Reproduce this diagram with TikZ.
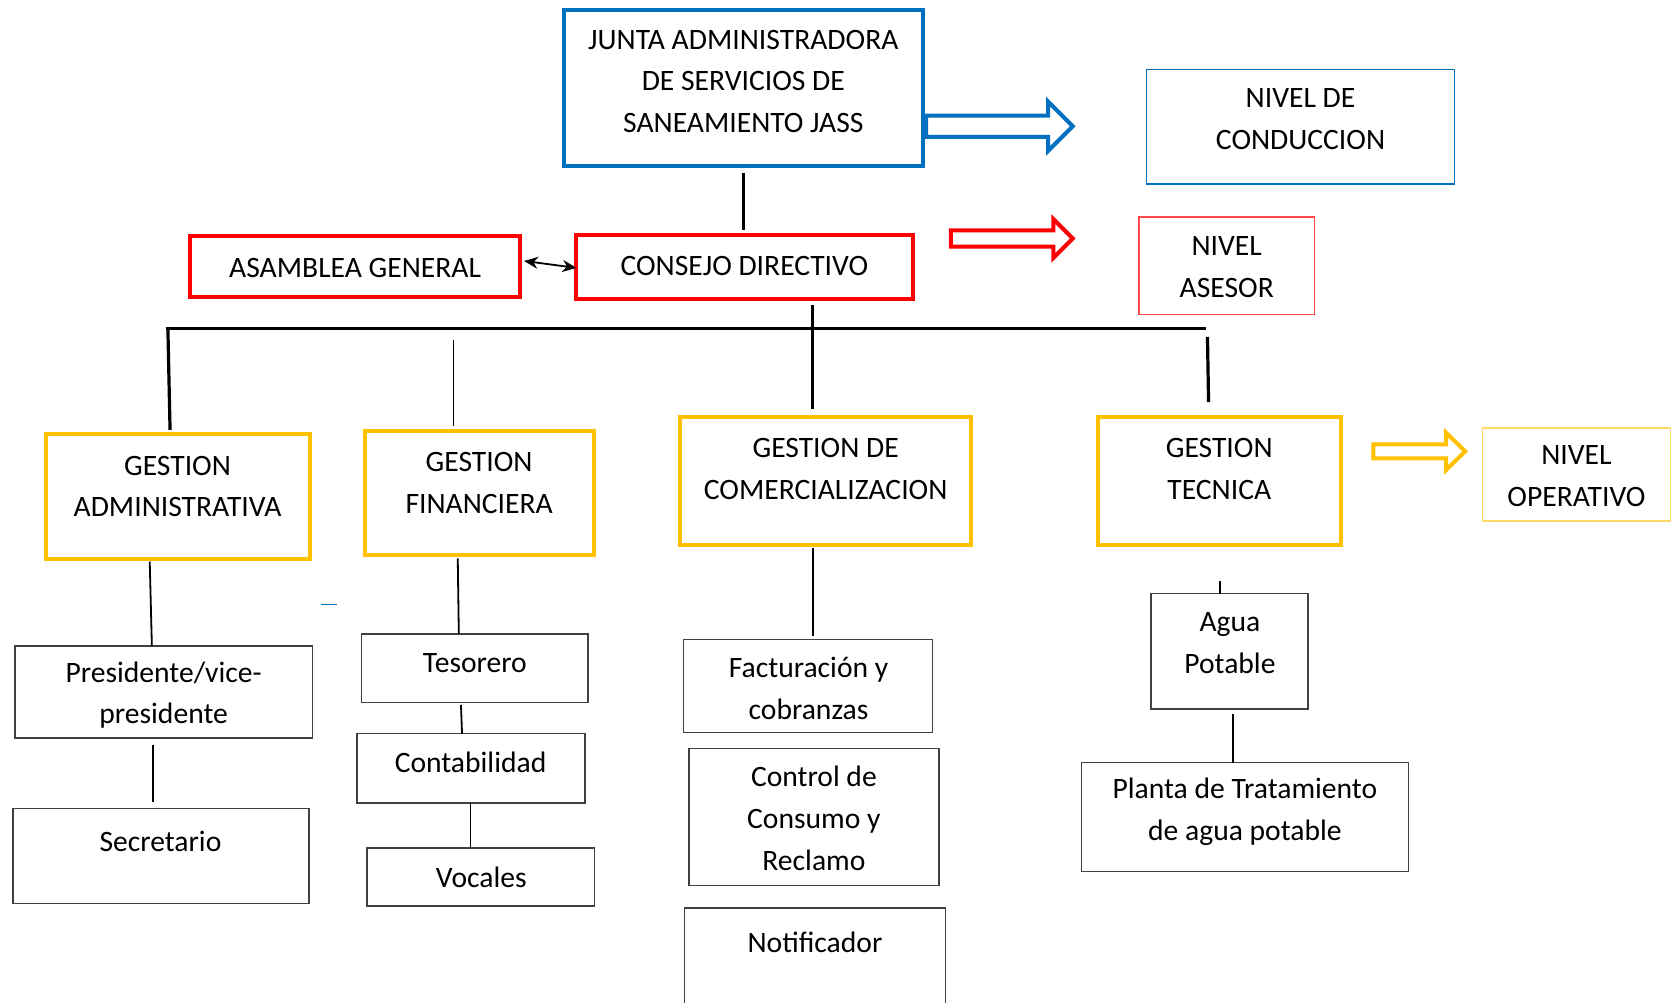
\documentclass[tikz,border=0pt]{standalone}
\usepackage{fontspec}
\setmainfont{Carlito}
\usetikzlibrary{arrows.meta}
\definecolor{jblue}{HTML}{0070C0}
\definecolor{jred}{HTML}{FF0000}
\definecolor{jredl}{HTML}{FF4B4B}
\definecolor{jgold}{HTML}{FFC000}
\definecolor{jgoldl}{HTML}{FFD966}
\definecolor{jgrey}{HTML}{404040}
\newcommand\bx[6]{\node[#2, minimum width={(#5-#3)*1.0695pt}, minimum height={(#6-#4)*1.0695pt}] (#1) at ({(#3+#5)/2},{(#4+#6)/2}) {};}
\newcommand\blockarrow[7]{% color, x1, x2, yc, shaft half, head half, head base x
  \draw[#1, line width=4pt, fill=white, line join=miter]
    (#2,#4-#5) -- (#7,#4-#5) -- (#7,#4-#6) -- (#3,#4) -- (#7,#4+#6) -- (#7,#4+#5) -- (#2,#4+#5) -- cycle;}
\begin{document}
\begin{tikzpicture}[x={(1.0695pt,0pt)},y={(0pt,-1.0695pt)},
  every node/.style={inner sep=0pt, outer sep=0pt},
  thickbox/.style={draw=#1, line width=4pt, fill=white},
  thinbox/.style={draw=#1, line width=1.5pt, fill=white},
  txt/.style={align=center, font=\fontsize{29.6}{41.7}\selectfont, text=black},
  conn/.style={draw=black, line width=1.8pt},
  bconn/.style={draw=black, line width=3.2pt}]
\useasboundingbox (0,0) rectangle (1568,937);
\fill[white] (0,0) rectangle (1568,937);

% boxes
\bx{junta}{thickbox=jblue}{527}{9}{863}{155}
\bx{conduc}{thinbox=jblue}{1072}{65}{1360}{172}
\bx{asamb}{thickbox=jred}{178}{221}{486}{278}
\bx{consejo}{thickbox=jred}{539}{220}{854}{280}
\bx{asesor}{thinbox=jredl}{1065}{203}{1229}{294}
\bx{admin}{thickbox=jgold}{43}{406}{290}{523}
\bx{fin}{thickbox=jgold}{341}{403}{555}{519}
\bx{com}{thickbox=jgold}{636}{390}{908}{510}
\bx{tec}{thickbox=jgold}{1027}{390}{1254}{510}
\bx{operat}{thinbox=jgoldl}{1386}{400}{1562}{487}
\bx{pres}{thinbox=jgrey}{14}{604}{292}{690}
\bx{sec}{thinbox=jgrey}{12}{756}{289}{845}
\bx{tes}{thinbox=jgrey}{338}{593}{550}{657}
\bx{cont}{thinbox=jgrey}{334}{686}{547}{751}
\bx{voc}{thinbox=jgrey}{343}{793}{556}{847}
\bx{fact}{thinbox=jgrey}{639}{598}{872}{685}
\bx{ctrl}{thinbox=jgrey}{644}{700}{878}{828}
\bx{notif}{thinbox=jgrey}{640}{849}{884}{950}
\bx{agua}{thinbox=jgrey}{1076}{555}{1223}{663}
\bx{planta}{thinbox=jgrey}{1011}{713}{1317}{815}

% texts
\node[txt] (t-junta) at (695,76) {JUNTA ADMINISTRADORA\\DE SERVICIOS DE\\SANEAMIENTO JASS};
\node[txt] (t-conduc) at (1216,111.5) {NIVEL DE\\CONDUCCION};
\node[txt] (t-asamb) at (332,251) {ASAMBLEA GENERAL};
\node[txt] (t-consejo) at (696,249) {CONSEJO DIRECTIVO};
\node[txt] (t-asesor) at (1147,249.5) {NIVEL\\ASESOR};
\node[txt] (t-admin) at (166,455) {GESTION\\ADMINISTRATIVA};
\node[txt] (t-fin) at (448,451.5) {GESTION\\FINANCIERA};
\node[txt] (t-com) at (772,438.5) {GESTION DE\\COMERCIALIZACION};
\node[txt] (t-tec) at (1140,438.5) {GESTION\\TECNICA};
\node[txt] (t-operat) at (1474,445) {NIVEL\\OPERATIVO};
\node[txt] (t-pres) at (153,650) {Presidente/vice-\\presidente};
\node[txt] (t-sec) at (150,787) {Secretario};
\node[txt] (t-tes) at (444,620) {Tesorero};
\node[txt] (t-cont) at (440,713) {Contabilidad};
\node[txt] (t-voc) at (450,820) {Vocales};
\node[txt] (t-fact) at (756,643.5) {Facturación y\\cobranzas};
\node[txt] (t-ctrl) at (761,765) {Control de\\Consumo y\\Reclamo};
\node[txt] (t-notif) at (762,881) {Notificador};
\node[txt] (t-agua) at (1150,601.5) {Agua\\Potable};
\node[txt] (t-planta) at (1164,759) {Planta de Tratamiento\\de agua potable};

% block arrows
\blockarrow{jblue}{866}{1003}{118}{10}{23}{980}
\blockarrow{jred}{889}{1003}{223}{7.5}{18}{985}
\blockarrow{jgold}{1284}{1370}{422}{6.5}{17.5}{1352}

% connectors
\coordinate (busL) at (155,307);
\coordinate (busR) at (1128,307);
\draw[bconn] (busL) -- (busR);
\draw[bconn] (695,0 |- junta.south) ++(0,7) -- (695,215);
\draw[bconn] (760,0 |- consejo.south) ++(0,5) -- (760,382);
\draw[bconn] (157,308) -- (159,402);
\draw[conn] (424,318) -- (424,398);
\draw[bconn] (1129,315) -- (1130,376);
\draw[black, line width=1.8pt, {Stealth[length=14pt,width=12pt]}-{Stealth[length=14pt,width=12pt]}]
  (490,244) -- ([yshift=-0.5]consejo.west);
\draw[conn] (140,525) -- (142,0 |- pres.north);
\draw[conn] (143,697) -- (143,750);
\draw[conn] (428,522) -- (429,0 |- tes.north);
\draw[conn] (431,659) -- (432,0 |- cont.north);
\draw[conn] (440,0 |- cont.south) -- (440,0 |- voc.north);
\draw[conn] (760,512) -- (760,595);
\draw[conn] (1141,543) -- (1141,0 |- agua.north);
\draw[conn] (1153,668) -- (1153,0 |- planta.north);
\draw[jblue, line width=1.3pt] (300,565) -- (315,565);
\end{tikzpicture}
\end{document}
